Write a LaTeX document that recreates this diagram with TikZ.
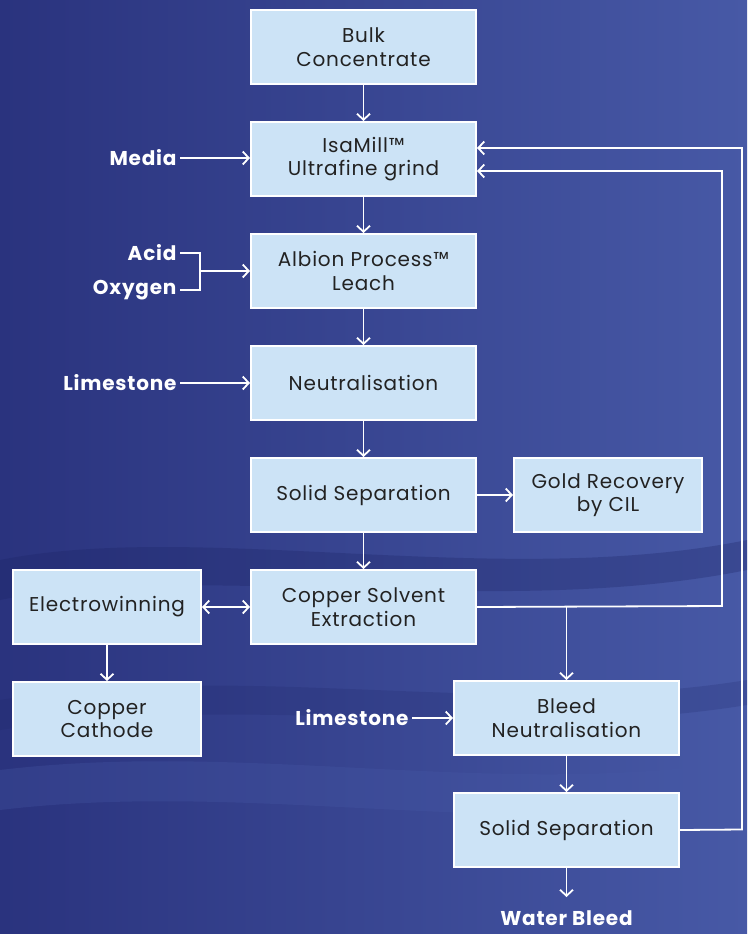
\documentclass[tikz,border=0pt]{standalone}
\usepackage{fontspec}
\setmainfont{Poppins}[LetterSpace=4]
\usepackage{tikz}
\usetikzlibrary{arrows.meta, positioning}
\definecolor{BoxBlue}{HTML}{CCE3F6}
\definecolor{InkGrey}{HTML}{222222}
\definecolor{NavyDeep}{HTML}{2A337E}
\definecolor{NavyLight}{HTML}{4759A6}
\definecolor{NavyShadow}{HTML}{1C2466}

\begin{document}
\begin{tikzpicture}[x=1pt, y=-1pt, node distance=36pt,
    barb/.tip={Straight Barb[length=6pt, width=13pt, line width=1.8pt]},
    box/.style={draw=white, line width=1.6pt, fill=BoxBlue, text=InkGrey,
      minimum width=225.4pt, minimum height=74.4pt, inner sep=2pt, align=center,
      font=\fontsize{20}{23.5}\selectfont},
    smallbox/.style={box, minimum width=188.4pt},
    feed/.style={text=white, font=\fontsize{20}{23}\selectfont\bfseries},
    flow/.style={draw=white, line width=1.8pt, -barb},
    both/.style={draw=white, line width=1.8pt, barb-barb},
    pipe/.style={draw=white, line width=1.8pt}]

  % background
  \useasboundingbox (0,0) rectangle (747,934);
  \shade[left color=NavyDeep, right color=NavyLight] (0,0) rectangle (747,934);
  \fill[NavyShadow, opacity=0.3] (0,560) .. controls (200,520) and (500,590) .. (747,540)
    -- (747,570) .. controls (500,620) and (200,560) .. (0,600) -- cycle;
  \fill[NavyShadow, opacity=0.2] (0,700) .. controls (250,660) and (500,720) .. (747,680)
    -- (747,705) .. controls (500,745) and (250,690) .. (0,730) -- cycle;
  \fill[NavyLight, opacity=0.3] (0,770) .. controls (250,740) and (500,800) .. (747,760)
    -- (747,800) .. controls (500,840) and (250,780) .. (0,810) -- cycle;

  % main column
  \node (bulk) [box] at (363.5,47) {Bulk\\Concentrate};
  \node (isamill) [box, below=of bulk] {IsaMill™\\Ultrafine grind};
  \node (albion) [box, below=of isamill] {Albion Process™\\Leach};
  \node (neutral) [box, below=of albion] {Neutralisation};
  \node (solidsep) [box, below=of neutral] {Solid Separation};
  \node (cse) [box, below=of solidsep] {Copper Solvent\\Extraction};

  % side boxes
  \node (gold) [smallbox, right=of solidsep] {Gold Recovery\\by CIL};
  \node (ew) [smallbox, left=48pt of cse] {Electrowinning};
  \node (cathode) [smallbox, below=of ew] {Copper\\Cathode};

  % bleed circuit
  \node (bleed) [box] at (566.5,718) {Bleed\\Neutralisation};
  \node (bleedsep) [box, below=of bleed] {Solid Separation};
  \coordinate (waterin) at (566.5,897);
  \node (water) [feed] at (566.5,918) {Water Bleed};

  % feeds
  \node (media) [feed, anchor=east] at (180,158) {Media};
  \node (acid) [feed, anchor=east] at (180,253) {Acid};
  \node (oxygen) [feed, anchor=east] at (180,290) {Oxygen};
  \node (lime) [feed, anchor=east] at (180,383) {Limestone};
  \node (lime2) [feed, anchor=east] at (412,718) {Limestone};
  \coordinate (join) at (200,271);

  % connectors
  \draw[flow] (bulk) -- (isamill);
  \draw[flow] (isamill) -- (albion);
  \draw[flow] (albion) -- (neutral);
  \draw[flow] (neutral) -- (solidsep);
  \draw[flow] (solidsep) -- (cse);
  \draw[flow] (solidsep) -- (gold);
  \draw[both] (ew) -- (cse);
  \draw[flow] (ew) -- (cathode);
  \draw[flow] (media.east) -- (media.east -| isamill.west);
  \draw[flow] (lime.east) -- (lime.east -| neutral.west);
  \draw[flow] (lime2.east) -- (lime2.east -| bleed.west);
  \draw[pipe] (acid.east) -| (join);
  \draw[pipe] (oxygen.east) -| (join);
  \draw[flow] (join) -- (join -| albion.west);
  \draw[flow] (cse.east) -- (722,606) |- ([yshift=-12pt]isamill.east);
  \draw[flow] (cse.east -| bleed.north) -- (bleed);
  \draw[flow] (bleed) -- (bleedsep);
  \draw[flow] (bleedsep.east) -- (742,829.5) |- ([yshift=11pt]isamill.east);
  \draw[flow] (bleedsep) -- (waterin);
\end{tikzpicture}
\end{document}
